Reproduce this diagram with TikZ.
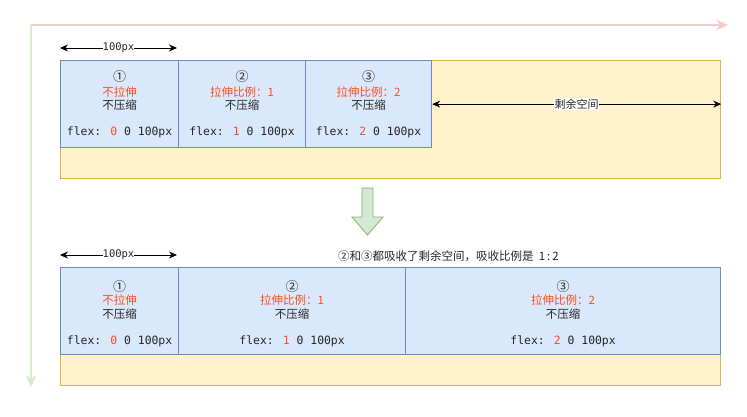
\documentclass[tikz,border=0pt]{standalone}
\usepackage{fontspec}
\setmainfont{Noto Sans CJK SC}
\newfontfamily\codefont{DejaVu Sans Mono}
\usetikzlibrary{arrows.meta}
\definecolor{boxfill}{HTML}{DAE8FC}
\definecolor{boxline}{HTML}{6C8EBF}
\definecolor{wrapfill}{HTML}{FFF2CC}
\definecolor{wrapline}{HTML}{D6B656}
\definecolor{accent}{HTML}{FF4D1A}
\definecolor{axisred}{HTML}{F4CCCC}
\definecolor{axisgreen}{HTML}{D9EAD3}
\definecolor{flowfill}{HTML}{D5E8D4}
\definecolor{flowline}{HTML}{82B366}
\tikzset{
  wrapper/.style={draw=wrapline, fill=wrapfill, line width=1.2pt, anchor=north west, inner sep=0pt},
  item/.style={draw=boxline, fill=boxfill, line width=1.2pt, anchor=north west, inner sep=0pt, minimum height=87pt},
  txt/.style={font=\fontsize{11.5pt}{13pt}\selectfont, inner sep=0pt, text=black!85},
  numtxt/.style={txt, font=\fontsize{13pt}{13pt}\selectfont},
  hot/.style={txt, text=accent},
  code/.style={font=\codefont\fontsize{11.4pt}{13pt}\selectfont, inner sep=0pt, text=black!85},
  dim/.style={line width=0.9pt, {Stealth[length=8pt,width=7pt]}-{Stealth[length=8pt,width=7pt]}},
  dimlabel/.style={fill=white, inner sep=1pt},
  axis/.style={line width=2.5pt, -{Stealth[length=12pt,width=11pt]}},
}
\begin{document}
\begin{tikzpicture}[x=1pt, y=-1pt]
\useasboundingbox (0,0) rectangle (747,416);

% axes
\coordinate (o) at (31,25);
\coordinate (xend) at (728,25);
\coordinate (yend) at (31,387);
\draw[axis, axisred] (o) -- (xend);
\draw[axis, axisgreen] (o) -- (yend);

% ---------- upper row ----------
\node[wrapper, minimum width=660pt, minimum height=118pt] (w1) at (60,60) {};
\node[item, minimum width=118pt] (a1) at (60,60) {};
\node[item, minimum width=127pt] (a2) at (178,60) {};
\node[item, minimum width=126pt] (a3) at (305,60) {};

\coordinate (d1l) at (60,48);
\coordinate (d1r) at (177,48);
\draw[dim] (d1l) -- node[dimlabel, code, font=\codefont\fontsize{10.5pt}{12pt}\selectfont] {100px} (d1r);

\foreach \b/\n/\r/\v in {a1/①/不拉伸/0, a2/②/拉伸比例：1/1, a3/③/拉伸比例：2/2} {
  \node[numtxt] (\b-num) at ([yshift=-17pt]\b.north) {\n};
  \node[hot] (\b-hot) at ([yshift=-32pt]\b.north) {\r};
  \node[txt] (\b-cmp) at ([yshift=-45pt]\b.north) {不压缩};
  \node[code] (\b-flex) at ([yshift=-72pt]\b.north) {flex: \textcolor{accent}{\v} 0 100px};
}

\coordinate (restl) at (a3.east);
\coordinate (restr) at (w1.east |- a3.east);
\draw[dim] (restl) -- node[dimlabel, txt, inner sep=0.5pt, font=\fontsize{11pt}{12pt}\selectfont] {剩余空间} (restr);

% ---------- transition ----------
\draw[flowline, fill=flowfill, line width=0.8pt]
  (362,188) -- (373,188) -- (373,217) -- (383,217) -- (367.5,235) -- (352,217) -- (362,217) -- cycle;
\node[txt, anchor=west] (note) at (338,256) {②和③都吸收了剩余空间，吸收比例是 \ 1\,:\,2};

% ---------- lower row ----------
\node[wrapper, minimum width=660pt, minimum height=118pt] (w2) at (60,267) {};
\node[item, minimum width=118pt] (b1) at (60,267) {};
\node[item, minimum width=227pt] (b2) at (178,267) {};
\node[item, minimum width=315pt] (b3) at (405,267) {};

\coordinate (d2l) at (60,255);
\coordinate (d2r) at (177,255);
\draw[dim] (d2l) -- node[dimlabel, code, font=\codefont\fontsize{10.5pt}{12pt}\selectfont] {100px} (d2r);

\foreach \b/\n/\r/\v in {b1/①/不拉伸/0, b2/②/拉伸比例：1/1, b3/③/拉伸比例：2/2} {
  \node[numtxt] (\b-num) at ([yshift=-20pt]\b.north) {\n};
  \node[hot] (\b-hot) at ([yshift=-33pt]\b.north) {\r};
  \node[txt] (\b-cmp) at ([yshift=-47pt]\b.north) {不压缩};
  \node[code] (\b-flex) at ([yshift=-74pt]\b.north) {flex: \textcolor{accent}{\v} 0 100px};
}
\end{tikzpicture}
\end{document}
